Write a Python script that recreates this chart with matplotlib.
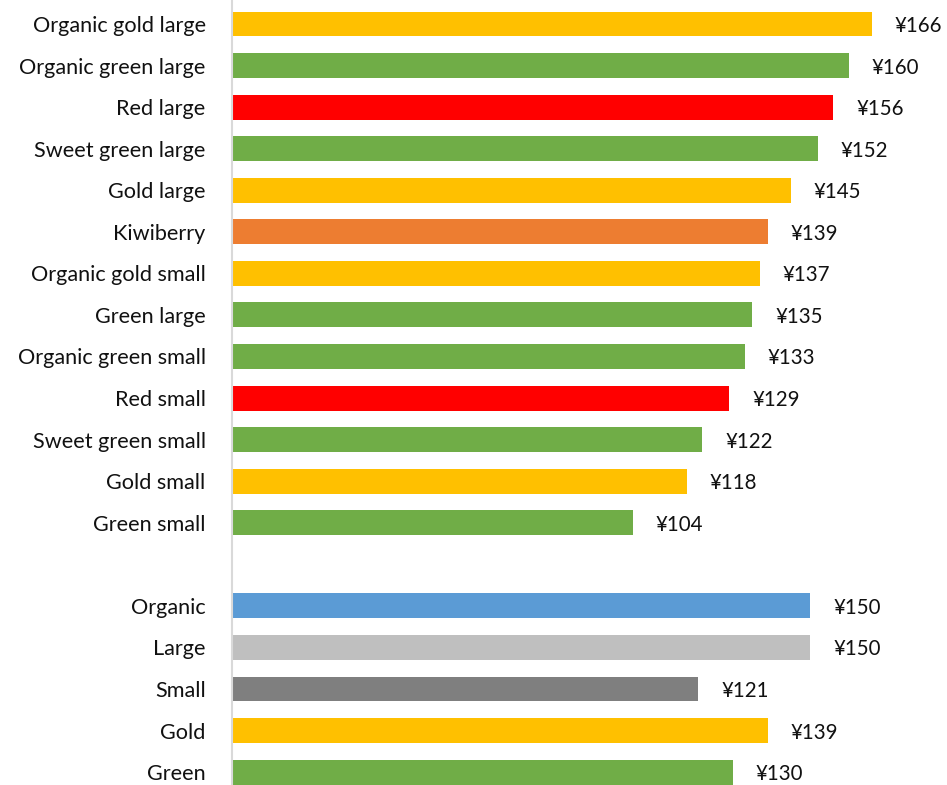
import matplotlib.pyplot as plt

# Prices per category, top to bottom; None leaves a blank row between groups
labels = ["Organic gold large", "Organic green large", "Red large", "Sweet green large",
          "Gold large", "Kiwiberry", "Organic gold small", "Green large",
          "Organic green small", "Red small", "Sweet green small", "Gold small",
          "Green small", "", "Organic", "Large", "Small", "Gold", "Green"]
prices = [166, 160, 156, 152, 145, 139, 137, 135, 133, 129, 122, 118, 104,
          None, 150, 150, 121, 139, 130]

GOLD, GREEN, RED, ORANGE = "#FFC000", "#70AD47", "#FF0000", "#ED7D31"
BLUE, LGRAY, DGRAY = "#5B9BD5", "#BFBFBF", "#7F7F7F"
colors = [GOLD, GREEN, RED, GREEN, GOLD, ORANGE, GOLD, GREEN, GREEN, RED, GREEN,
          GOLD, GREEN, None, BLUE, LGRAY, DGRAY, GOLD, GREEN]

plt.rcParams['font.family'] = ['Lato', 'DejaVu Sans']

fig = plt.figure(figsize=(9.47, 7.85), dpi=100)
ax = fig.add_axes([0.245, 0.0, 0.755, 1.0])

rows = [i for i, p in enumerate(prices) if p is not None]
vals = [prices[i] for i in rows]
cols = [colors[i] for i in rows]
bars = ax.barh(rows, vals, height=0.6, color=cols, zorder=2)

for b, v in zip(bars, vals):
    ax.annotate(f"¥{v}", (b.get_width(), b.get_y() + b.get_height() / 2),
                xytext=(16.5, 0), textcoords="offset points",
                ha="left", va="center_baseline", fontsize=14.8, color="#111111")

ax.set_xlim(0, 185.5)
ax.set_ylim(18.31, -0.577)
ax.set_yticks(rows)
ax.set_yticklabels([labels[i] for i in rows], fontsize=15.6, color="#111111",
                   va="center_baseline")
ax.tick_params(axis="y", length=0, pad=19)
ax.set_xticks([])

for s in ["top", "right", "bottom"]:
    ax.spines[s].set_visible(False)
ax.spines["left"].set_color("#D9D9D9")
ax.spines["left"].set_linewidth(1.5)

fig.savefig("out.png", dpi=100)
